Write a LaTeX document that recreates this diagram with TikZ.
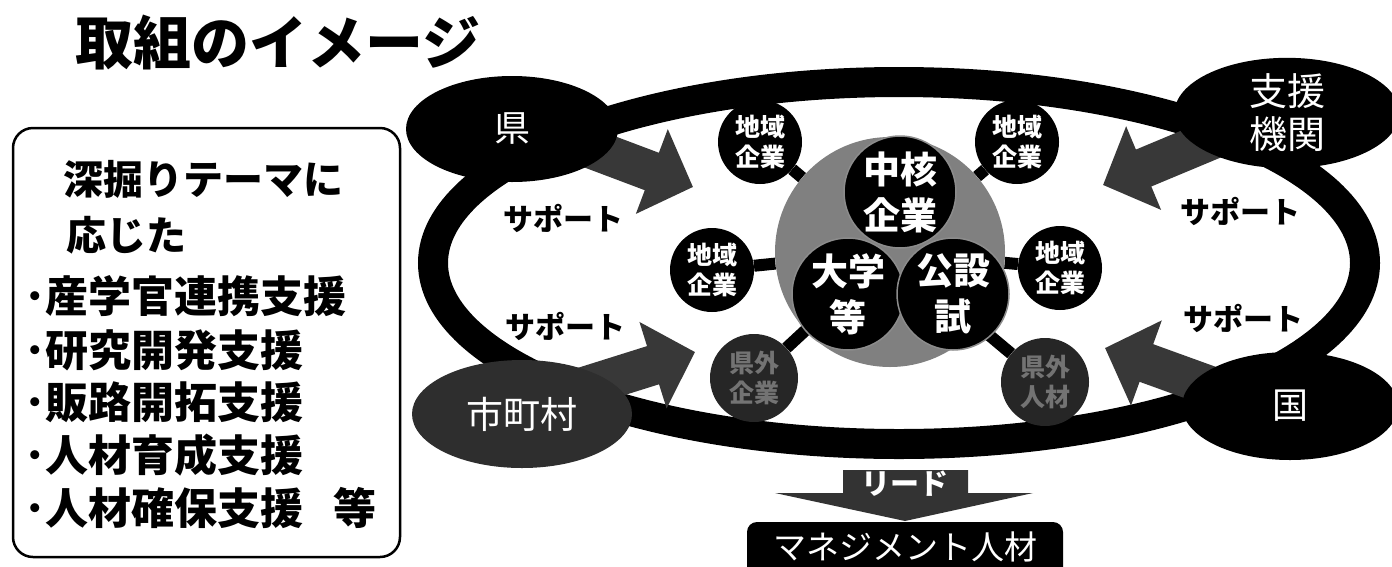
\documentclass[tikz,border=0pt]{standalone}
\usepackage{fontspec}
\newfontfamily\jp{Noto Sans CJK JP}
\usetikzlibrary{shapes.geometric,arrows.meta,backgrounds}
\begin{document}
\begin{tikzpicture}[x=1pt,y=-1pt,
  every node/.style={font=\jp},
  oval/.style={ellipse, inner sep=0pt, fill=black, text=white, minimum width=212pt, minimum height=106pt, align=center},
  smallc/.style={circle, fill=black, inner sep=0pt, minimum size=84pt, text=white, align=center, font=\jp\bfseries\fontsize{25}{30}\selectfont},
  subc/.style={circle, fill=black, draw=black!45, line width=1.5pt, inner sep=0pt, minimum size=112pt, text=white, align=center, font=\jp\bfseries\fontsize{37}{46}\selectfont},
  ring/.style={line width=30pt, black},
  support/.style={line width=40pt, black!78, shorten <=-30pt, -{Triangle[width=88pt,length=44pt]}},
  stub/.style={line width=12pt, black},
  lbl/.style={inner sep=0pt, font=\jp\bfseries\fontsize{30}{30}\selectfont},
  boxtxt/.style={anchor=west, inner sep=0pt, font=\jp\bfseries\fontsize{43}{43}\selectfont}
]
\useasboundingbox (0,0) rectangle (1392,566);

% title
\node[anchor=west, inner sep=0pt, font=\jp\bfseries\fontsize{58}{58}\selectfont] (title) at (75,43) {取組のイメージ};

% left box
\node[draw, rounded corners=20pt, line width=2.5pt, minimum width=387pt, minimum height=429pt, inner sep=0pt] (box) at (206.5,342.5) {};
\node[boxtxt, font=\jp\bfseries\fontsize{40}{40}\selectfont] (h1) at (63,179) {深掘りテーマに};
\node[boxtxt, font=\jp\bfseries\fontsize{40}{40}\selectfont] (h2) at (66,235) {応じた};
\node[boxtxt] (i1) at (24,296) {･産学官連携支援};
\node[boxtxt] (i2) at (24,350) {･研究開発支援};
\node[boxtxt] (i3) at (24,402) {･販路開拓支援};
\node[boxtxt] (i4) at (24,455) {･人材育成支援};
\node[boxtxt] (i5) at (24,508) {･人材確保支援\hspace{0.7em}等};

% outer ellipses
\node[oval, font=\jp\fontsize{36}{36}\selectfont] (ken) at (512,129) {県};
\node[oval, minimum width=225pt, minimum height=102pt, font=\jp\fontsize{38}{43}\selectfont] (shien) at (1287,113) {支援\\機関};
\node[oval, fill=black!82, minimum width=220pt, minimum height=108pt, font=\jp\fontsize{37}{37}\selectfont] (shichoson) at (522,414) {市町村};
\node[oval, minimum width=216pt, minimum height=108pt, font=\jp\fontsize{36}{36}\selectfont] (kuni) at (1290,406) {国};

% core
\node[circle, fill=black!50, minimum size=230pt, inner sep=0pt] (core) at (890,252) {};
\node[subc] (chukaku) at (900,192) {中核\\企業};
\node[subc] (daigaku) at (848,294) {大学\\等};
\node[subc] (kousetsu) at (953,294) {公設\\試};

% small circles
\node[smallc] (c1) at (760,142) {地域\\企業};
\node[smallc] (c2) at (1017,142) {地域\\企業};
\node[smallc] (c3) at (712,270) {地域\\企業};
\node[smallc] (c4) at (1060,268) {地域\\企業};
\node[smallc, fill=black!85, text=black!55, minimum size=88pt] (c5) at (754,378) {県外\\企業};
\node[smallc, fill=black!85, text=black!55, minimum size=88pt] (c6) at (1045,382) {県外\\人材};

% labels
\node[lbl] (s1) at (563,218) {サポート};
\node[lbl] (s2) at (565,326) {サポート};
\node[lbl] (s3) at (1240,211) {サポート};
\node[lbl] (s4) at (1243,318) {サポート};

% arrow tips
\coordinate (tA) at (693,187);
\coordinate (tB) at (1103,185);
\coordinate (tC) at (695,352);
\coordinate (tD) at (1105,348);

\begin{scope}[on background layer]
  \fill[white] (0,0) rectangle (1392,566);
  \draw[ring] (899,263) ellipse [x radius=466pt, y radius=181pt];
  \draw[support] (ken.-15) -- (tA);
  \draw[support] (shien.200) -- (tB);
  \draw[support] (shichoson.22) -- (tC);
  \draw[support] (kuni.165) -- (tD);
  \foreach \c in {c1,c2,c3,c4,c5,c6} \draw[stub] (\c) -- (core);
\end{scope}

% lead arrow
\fill[black!80] (843,470) -- (968,470) -- (968,493) -- (1033,493) -- (905,521) -- (775,493) -- (843,493) -- cycle;
\node[inner sep=0pt, text=white, font=\jp\bfseries\fontsize{29}{29}\selectfont] (lead) at (905,484) {リード};

% management box
\node[fill=black, rounded corners=10pt, text=white, minimum width=316pt, minimum height=62pt, inner sep=0pt, font=\jp\fontsize{33}{33}\selectfont] (mgmt) at (905,553) {};
\node[inner sep=0pt, text=white, font=\jp\fontsize{33}{33}\selectfont] (mgmttxt) at (905,547) {マネジメント人材};
\end{tikzpicture}
\end{document}
